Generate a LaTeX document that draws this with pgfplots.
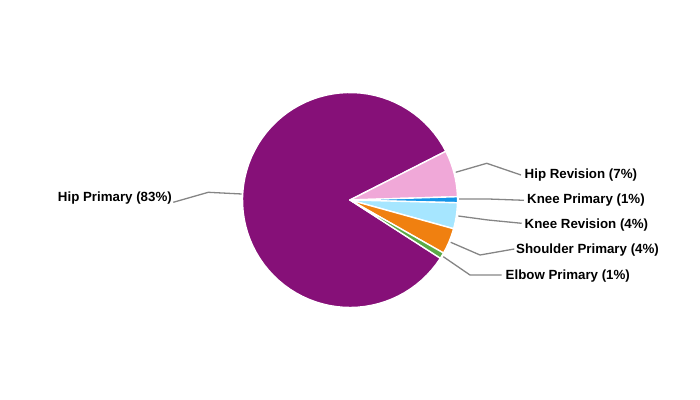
\documentclass[border=0pt]{standalone}
\usepackage{pgfplots}
\usepackage{pgfplotstable}
\pgfplotsset{compat=1.18}
\usepackage{fontspec}
\setmainfont{Liberation Sans}

\definecolor{slice0}{HTML}{861078}% Hip Primary
\definecolor{slice1}{HTML}{F0A8D8}% Hip Revision
\definecolor{slice2}{HTML}{1494E8}% Knee Primary
\definecolor{slice3}{HTML}{A6E6FF}% Knee Revision
\definecolor{slice4}{HTML}{F08010}% Shoulder Primary
\definecolor{slice5}{HTML}{5AAA46}% Elbow Primary
\definecolor{leader}{HTML}{858585}

% share of procedures, in percent
\pgfplotstableread[col sep=comma]{
part,share
Hip Primary,83.4
Hip Revision,7.0
Knee Primary,0.9
Knee Revision,3.9
Shoulder Primary,3.9
Elbow Primary,0.9
}\shares

\begin{document}
\begin{tikzpicture}
% slice angles: clockwise from the start angle
\def\startangle{-32.8}
\xdef\cum{0}
\foreach \i in {0,...,5}{%
  \pgfplotstablegetelem{\i}{share}\of\shares
  \pgfmathsetmacro\ta{\startangle-3.6*\cum}%
  \pgfmathsetmacro\newcum{\cum+\pgfplotsretval}%
  \pgfmathsetmacro\tb{\startangle-3.6*\newcum}%
  \expandafter\xdef\csname ta\i\endcsname{\ta}%
  \expandafter\xdef\csname tb\i\endcsname{\tb}%
  \xdef\cum{\newcum}%
}
\useasboundingbox (0,0) rectangle (700bp,400bp);
\begin{axis}[
  at={(0,0)}, anchor=south west,
  scale only axis, width=700bp, height=400bp,
  xmin=0, xmax=700, ymin=0, ymax=400,
  hide axis, clip=false,
  every axis plot/.append style={forget plot},
]
% pie slices, centre (350,200), radius 107.5
\pgfplotsinvokeforeach{0,...,5}{%
  \addplot[fill=slice#1, draw=white, line width=1.4bp, line join=round,
    domain=\csname tb#1\endcsname:\csname ta#1\endcsname,
    samples=80, variable=\t]
    ({350+107.5*cos(\t)}, {200+107.5*sin(\t)}) -- (axis cs:350,200) -- cycle;
}
% leader lines
\pgfplotsset{leaderline/.style={leader, line width=1.3bp, mark=none}}
\addplot[leaderline] coordinates {(241.7,206) (208.3,207.7) (173.3,197.7)};
\addplot[leaderline] coordinates {(455.7,227.7) (486.7,236.7) (521,225)};
\addplot[leaderline] coordinates {(459,201) (488.3,201) (524,199.7)};
\addplot[leaderline] coordinates {(458.3,184) (488,180) (521.7,176.7)};
\addplot[leaderline] coordinates {(450.7,157.7) (480,145) (514.3,151)};
\addplot[leaderline] coordinates {(443.3,143.3) (470,125) (501.7,125)};
% labels
\tikzset{lbl/.style={inner sep=0pt, font=\fontsize{13.3bp}{15bp}\selectfont\bfseries, text=black}}
\node[lbl, anchor=base east] at (axis cs:172,198.3) {Hip Primary (83\%)};
\node[lbl, anchor=base west] at (axis cs:524.5,221.7) {Hip Revision (7\%)};
\node[lbl, anchor=base west] at (axis cs:527,196) {Knee Primary (1\%)};
\node[lbl, anchor=base west] at (axis cs:524.5,171.3) {Knee Revision (4\%)};
\node[lbl, anchor=base west] at (axis cs:516,146.7) {Shoulder Primary (4\%)};
\node[lbl, anchor=base west] at (axis cs:505.5,120.7) {Elbow Primary (1\%)};
\end{axis}
\end{tikzpicture}
\end{document}
